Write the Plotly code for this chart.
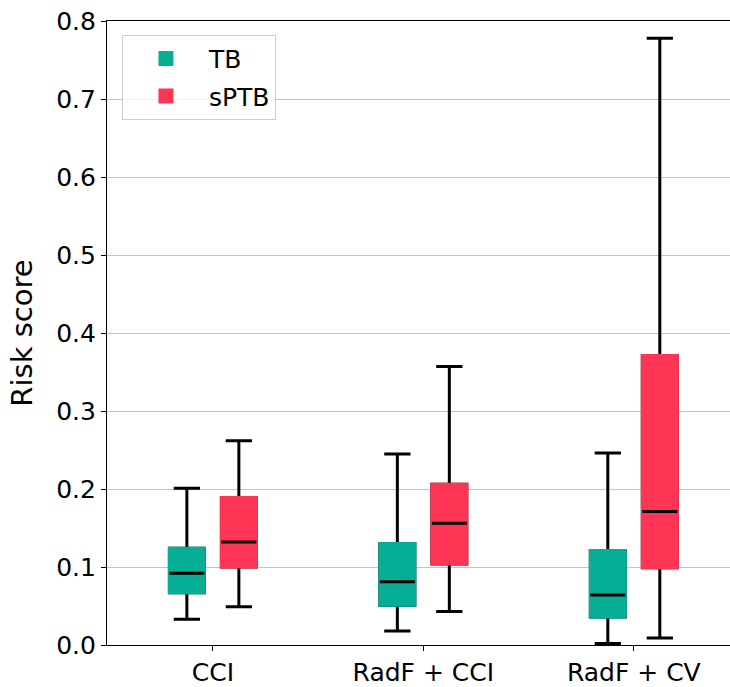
import plotly.graph_objects as go

categories = ["CCI", "RadF + CCI", "RadF + CV"]
y_ticks = [0.0, 0.1, 0.2, 0.3, 0.4, 0.5, 0.6, 0.7, 0.8]

tb_low = [0.033, 0.018, 0.002]
tb_q1 = [0.067, 0.051, 0.036]
tb_med = [0.092, 0.081, 0.064]
tb_q3 = [0.124, 0.130, 0.121]
tb_high = [0.201, 0.245, 0.246]

sptb_low = [0.049, 0.043, 0.009]
sptb_q1 = [0.100, 0.104, 0.099]
sptb_med = [0.132, 0.156, 0.171]
sptb_q3 = [0.189, 0.206, 0.371]
sptb_high = [0.262, 0.357, 0.778]

series = [
    ("TB", "#05AE95", tb_low, tb_q1, tb_med, tb_q3, tb_high),
    ("sPTB", "#FF3555", sptb_low, sptb_q1, sptb_med, sptb_q3, sptb_high),
]

fig = go.Figure()
for name, color, low, q1, med, q3, high in series:
    # whiskers (black)
    fig.add_trace(go.Box(
        x=categories, lowerfence=low, q1=q1, median=med, q3=q3, upperfence=high,
        name=name, offsetgroup=name, legendgroup=name, showlegend=False, boxpoints=False,
        line=dict(color="black", width=3), fillcolor=color, whiskerwidth=0.75,
        hoverinfo="skip",
    ))
    # box fill without black outline
    fig.add_trace(go.Box(
        x=categories, lowerfence=q1, q1=q1, median=q1, q3=q3, upperfence=q3,
        name=name, offsetgroup=name, legendgroup=name, showlegend=True, boxpoints=False,
        line=dict(color=color, width=3), fillcolor=color, whiskerwidth=0,
    ))
    # median line (black)
    fig.add_trace(go.Box(
        x=categories, lowerfence=med, q1=med, median=med, q3=med, upperfence=med,
        name=name, offsetgroup=name, legendgroup=name, showlegend=False, boxpoints=False,
        line=dict(color="black", width=3), fillcolor="black", whiskerwidth=0,
        hoverinfo="skip",
    ))

fig.update_layout(
    width=730, height=687,
    margin=dict(l=107, r=0, t=21, b=38),
    paper_bgcolor="white", plot_bgcolor="white",
    boxmode="group", boxgap=0.506, boxgroupgap=0.327,
    font=dict(family="DejaVu Sans", size=25, color="black"),
    legend=dict(
        x=0.024, y=0.978, xanchor="left", yanchor="top",
        bgcolor="rgba(255,255,255,0.8)", bordercolor="#cccccc", borderwidth=1,
        font=dict(size=25), tracegroupgap=2, itemwidth=76,
    ),
    xaxis=dict(
        type="category", range=[-0.503, 2.457],
        showline=True, linecolor="black", linewidth=1.2, mirror=True,
        ticks="outside", ticklen=5, tickcolor="black", showgrid=False,
        tickfont=dict(size=25),
    ),
    yaxis=dict(
        range=[0, 0.8], tickmode="array", tickvals=y_ticks,
        ticktext=[f"{v:.1f}" for v in y_ticks],
        showline=True, linecolor="black", linewidth=1.2,
        ticks="outside", ticklen=5, tickcolor="black",
        showgrid=True, gridcolor="#c4c4c4", gridwidth=1,
        zeroline=False, tickfont=dict(size=25),
        title=dict(text="Risk score", font=dict(size=29), standoff=14),
    ),
)

fig.write_html(
    "out.html",
    config={"displayModeBar": False},
    post_script="document.body.style.margin='0px';",
)
